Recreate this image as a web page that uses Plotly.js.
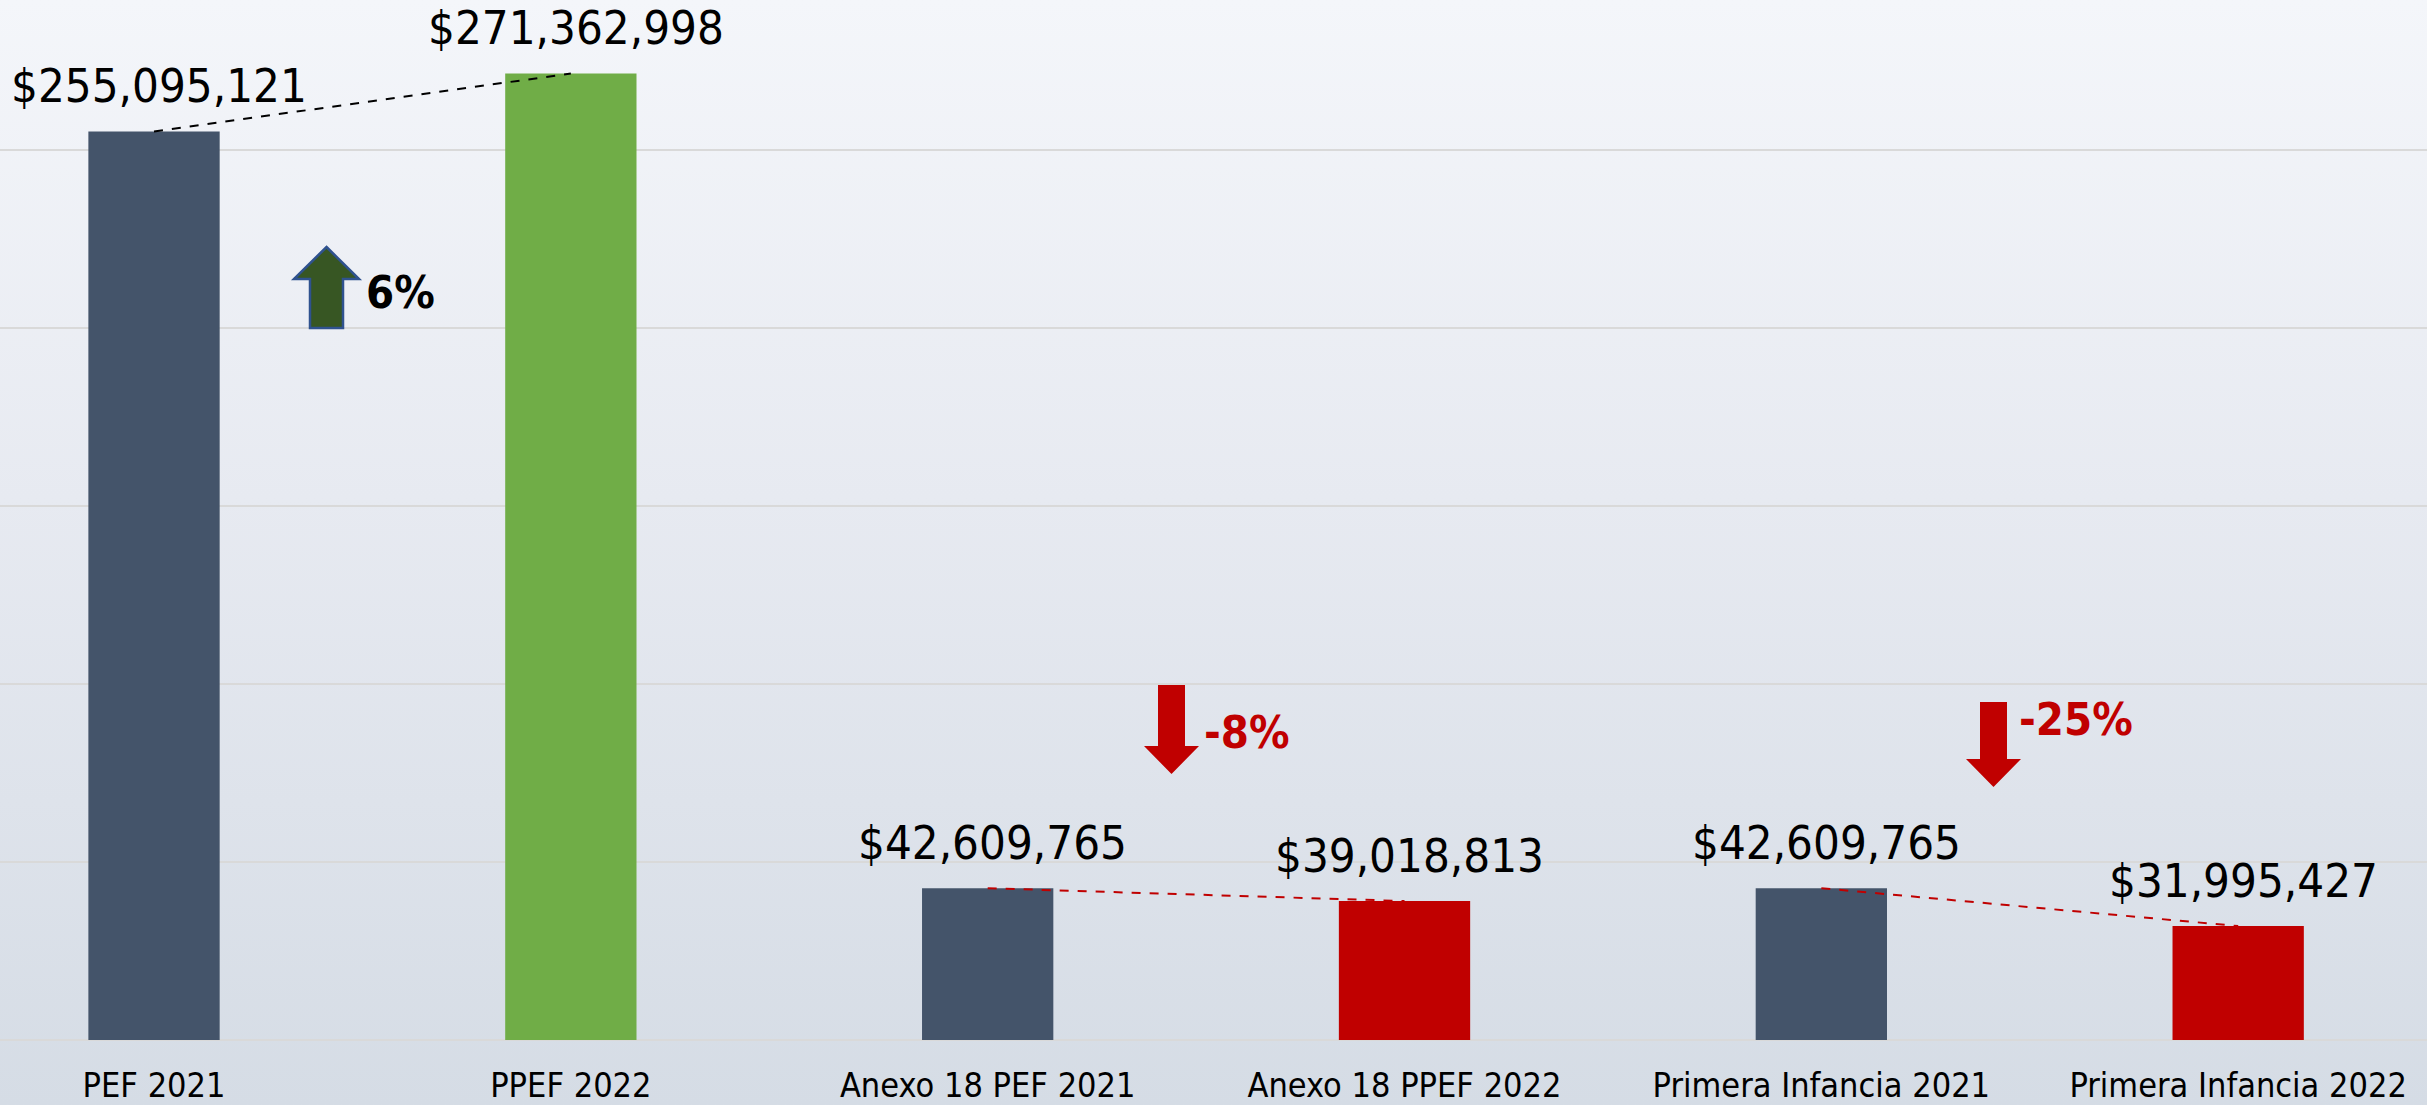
<!DOCTYPE html>
<html>
<head>
<meta charset="utf-8">
<script src="https://cdn.plot.ly/plotly-3.0.1.min.js"></script>
<style>
  html, body { margin: 0; padding: 0; }
  body { width: 2427px; height: 1105px; overflow: hidden;
         background: linear-gradient(to bottom, #F4F6FA 0%, #E7EAF1 45%, #D5DCE5 100%); }
  #chart { width: 2427px; height: 1105px; }
</style>
</head>
<body>
<div id="chart"></div>
<script>
// ---- data ----
const categories = ["PEF 2021", "PPEF 2022", "Anexo 18 PEF 2021", "Anexo 18 PPEF 2022", "Primera Infancia 2021", "Primera Infancia 2022"];
const values = [255095121, 271362998, 42609765, 39018813, 42609765, 31995427];
const barColors = ["#44546A", "#70AD47", "#44546A", "#C00000", "#44546A", "#C00000"];
const comparisons = [[0, 1], [2, 3], [4, 5]];

// ---- layout helpers ----
const W = 2427, H = 1105, B = 65;
const PH = H - B;
const FONT = '"Liberation Sans Narrow", "Arial Narrow", "DejaVu Sans Condensed", sans-serif';
const fmt = v => "$" + v.toLocaleString("en-US");
const px = p => p / W;                 // pixel x -> paper x
const py = p => (PH - p) / PH;         // pixel y -> paper y

const xIdx = categories.map((c, i) => i);

const traces = [{
  type: "bar",
  x: xIdx,
  y: values,
  width: 0.315,
  marker: { color: barColors, line: { width: 0 } },
  hoverinfo: "skip",
  showlegend: false
}];

const lineColors = ["#000000", "#C00000", "#C00000"];
comparisons.forEach((pair, k) => {
  traces.push({
    type: "scatter", mode: "lines",
    x: pair.map(i => xIdx[i]),
    y: pair.map(i => values[i]),
    line: { color: lineColors[k], width: 2, dash: "dash" },
    hoverinfo: "skip", showlegend: false, cliponaxis: false
  });
});

// value labels
const annotations = xIdx.map(i => ({
  x: i, y: values[i], xref: "x", yref: "y",
  text: fmt(values[i]), showarrow: false,
  yanchor: "bottom", yshift: 16, xshift: 5,
  font: { family: FONT, size: 47, color: "#000000" }
}));

// percent change labels
const pct = comparisons.map(([a, b]) => Math.round((values[b] - values[a]) / values[a] * 100));
const pctPos = [[364, 292, "#000000"], [1202, 733, "#C00000"], [2017, 719, "#C00000"]];
pct.forEach((p, k) => {
  annotations.push({
    x: px(pctPos[k][0]), y: py(pctPos[k][1]), xref: "paper", yref: "paper",
    text: "<b>" + p + "%</b>", showarrow: false,
    xanchor: "left", yanchor: "middle",
    font: { family: FONT, size: 45, color: pctPos[k][2] }
  });
});

// block arrows (decorations, pixel geometry -> paper)
function upArrow(tipX, tipY, headY, headL, headR, shaftL, shaftR, bottom) {
  const pts = [[tipX, tipY], [headR, headY], [shaftR, headY], [shaftR, bottom], [shaftL, bottom], [shaftL, headY], [headL, headY]];
  return "M " + pts.map(p => px(p[0]) + "," + py(p[1])).join(" L ") + " Z";
}
function downArrow(tipX, tipY, headY, headL, headR, shaftL, shaftR, top) {
  const pts = [[tipX, tipY], [headR, headY], [shaftR, headY], [shaftR, top], [shaftL, top], [shaftL, headY], [headL, headY]];
  return "M " + pts.map(p => px(p[0]) + "," + py(p[1])).join(" L ") + " Z";
}
const shapes = [
  { type: "path", xref: "paper", yref: "paper",
    path: upArrow(326.5, 247, 279, 294, 359, 310, 343, 328),
    fillcolor: "#375623", line: { color: "#2F528F", width: 2.5 } },
  { type: "path", xref: "paper", yref: "paper",
    path: downArrow(1171.5, 774, 746, 1144, 1199, 1158, 1185, 685),
    fillcolor: "#C00000", line: { color: "#C00000", width: 0 } },
  { type: "path", xref: "paper", yref: "paper",
    path: downArrow(1993.5, 787, 759, 1966, 2021, 1980, 2007, 702),
    fillcolor: "#C00000", line: { color: "#C00000", width: 0 } }
];

const layout = {
  width: W, height: H,
  margin: { l: 0, r: 0, t: 0, b: B, pad: 0 },
  paper_bgcolor: "rgba(0,0,0,0)",
  plot_bgcolor: "rgba(0,0,0,0)",
  showlegend: false,
  xaxis: {
    range: [-0.3695, 5.453],
    tickmode: "array", tickvals: xIdx, ticktext: categories,
    showgrid: false, zeroline: false, showline: false, ticks: "",
    ticklabelstandoff: 22,
    tickfont: { family: FONT, size: 34, color: "#000000" },
    fixedrange: true
  },
  yaxis: {
    range: [0, 292e6],
    dtick: 50e6, tick0: 0,
    showticklabels: false, ticks: "",
    showgrid: true, gridcolor: "#D9D9D9", gridwidth: 2,
    zeroline: true, zerolinecolor: "#D9D9D9", zerolinewidth: 2,
    showline: false, fixedrange: true
  },
  annotations: annotations,
  shapes: shapes
};

Plotly.newPlot("chart", traces, layout, { displayModeBar: false, staticPlot: true });
</script>
</body>
</html>
